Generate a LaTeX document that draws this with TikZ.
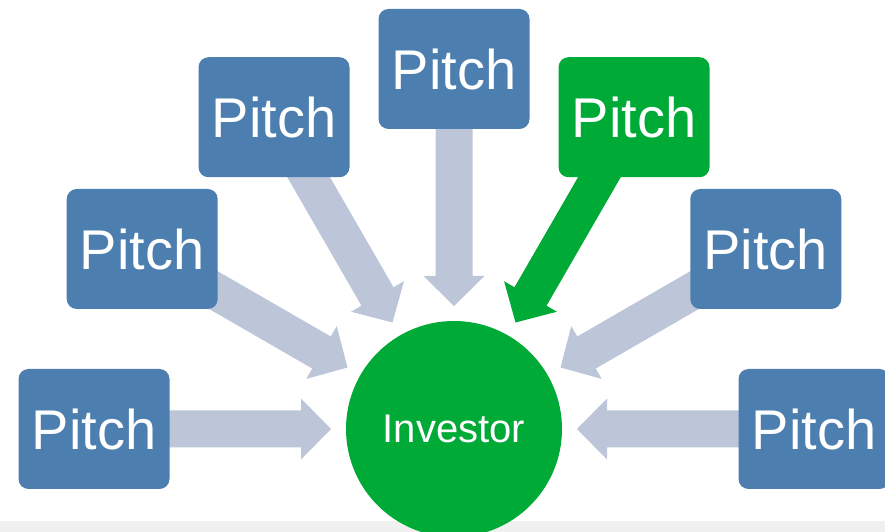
\documentclass[tikz,border=0pt]{standalone}
\usepackage{fontspec}
\setmainfont{Liberation Sans}
\usetikzlibrary{calc,backgrounds}
\definecolor{boxblue}{RGB}{76,126,175}
\definecolor{arrowgray}{RGB}{188,198,216}
\definecolor{invgreen}{RGB}{0,170,54}
\definecolor{bandgray}{RGB}{240,240,240}
\tikzset{
  pitchbox/.style={rectangle, rounded corners=10pt, fill=boxblue, text=white,
    minimum width=151pt, minimum height=120pt, inner sep=0pt,
    font=\fontsize{56}{60}\selectfont},
  greenbox/.style={pitchbox, fill=invgreen},
  investor/.style={circle, fill=invgreen, text=white, minimum size=216pt, inner sep=0pt,
    font=\fontsize{40}{44}\selectfont},
}
% block arrow from node #1 towards the investor node, tip 123pt from its centre
\newcommand{\blockarrow}[2]{%
  \coordinate (T-#1) at ($(inv.center)!123pt!(#1.center)$);
  \coordinate (H-#1) at ($(inv.center)!153pt!(#1.center)$);
  \fill[#2] (T-#1) -- ($(H-#1)!30.5pt!90:(#1.center)$) -- ($(H-#1)!18.5pt!90:(#1.center)$)
    -- ($(#1.center)!18.5pt!-90:(H-#1)$) -- ($(#1.center)!18.5pt!90:(H-#1)$)
    -- ($(H-#1)!18.5pt!-90:(#1.center)$) -- ($(H-#1)!30.5pt!-90:(#1.center)$) -- cycle;%
}
\begin{document}
\begin{tikzpicture}[x=1pt,y=1pt]
\useasboundingbox (0,0) rectangle (885,532);
\clip (0,0) rectangle (885,532);
\coordinate (c) at (454,103);
\node[investor] (inv) at (c) {Investor};
\node[pitchbox] (p1) at ($(c)+(180:360)$) {Pitch};
\node[pitchbox] (p2) at ($(c)+(150:360)$) {Pitch};
\node[pitchbox] (p3) at ($(c)+(120:360)$) {Pitch};
\node[pitchbox] (p4) at ($(c)+(90:360)$) {Pitch};
\node[greenbox] (p5) at ($(c)+(60:360)$) {Pitch};
\node[pitchbox] (p6) at ($(c)+(30:360)$) {Pitch};
\node[pitchbox] (p7) at ($(c)+(0:360)$) {Pitch};
\begin{scope}[on background layer]
\fill[bandgray] (0,0) rectangle (885,11);
\blockarrow{p1}{arrowgray}
\blockarrow{p2}{arrowgray}
\blockarrow{p3}{arrowgray}
\blockarrow{p4}{arrowgray}
\blockarrow{p5}{invgreen}
\blockarrow{p6}{arrowgray}
\blockarrow{p7}{arrowgray}
\end{scope}
\end{tikzpicture}
\end{document}
